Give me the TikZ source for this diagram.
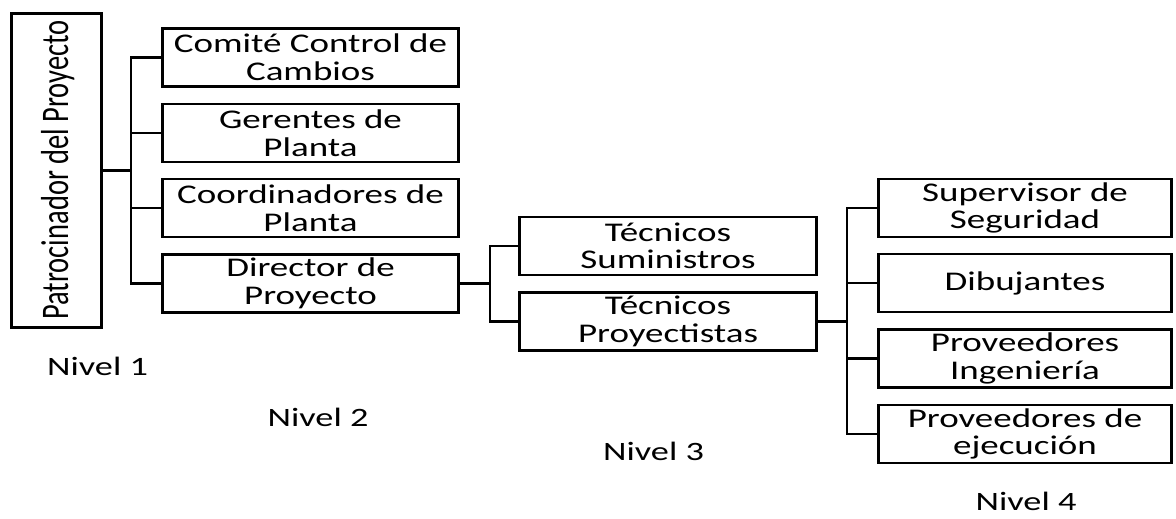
\documentclass[tikz,border=0pt]{standalone}
\usepackage{fontspec}
\setmainfont{Carlito}
\newfontfamily\widefont[FakeStretch=1.37]{Carlito}
\newfontfamily\plainfont{Carlito}
\begin{document}
\begin{tikzpicture}[x=1pt,y=-1pt,
  box/.style={draw, line width=2.6pt, minimum width=296pt, minimum height=58pt, inner sep=0pt, align=center, font=\widefont\fontsize{27}{27.6}\selectfont},
  conn/.style={line width=2.6pt},
  lvl/.style={font=\widefont\fontsize{26.5}{28}\selectfont, anchor=base, inner sep=0pt}]
\useasboundingbox (0,0) rectangle (1176,519);
% level 1
\node[draw, line width=2.6pt, minimum width=90.5pt, minimum height=314.5pt, inner sep=0pt] (sp) at (56.5,170.5) {};
\node[rotate=90, anchor=base, inner sep=0pt] (sptext) at (68,170) {\scalebox{1}[1.37]{\plainfont\fontsize{28.5}{30}\selectfont Patrocinador del Proyecto}};
% level 2
\node[box] (c1) at (310.5,57.5) {Comité Control de\\Cambios};
\node[box] (c2) at (310.5,133) {Gerentes de\\Planta};
\node[box] (c3) at (310.5,208) {Coordinadores de\\Planta};
\node[box] (c4) at (310.5,283.5) {Director de\\Proyecto};
% level 3
\node[box, minimum width=297.5pt] (t1) at (668,246) {Técnicos\\Suministros};
\node[box, minimum width=297.5pt] (t2) at (668,321.5) {Técnicos\\Proyectistas};
% level 4
\node[box, minimum width=293.5pt] (d1) at (1025,208) {Supervisor de\\Seguridad};
\node[box, minimum width=293.5pt] (d2) at (1025,283) {Dibujantes};
\node[box, minimum width=293.5pt] (d3) at (1025,358.5) {Proveedores\\Ingeniería};
\node[box, minimum width=293.5pt] (d4) at (1025,434) {Proveedores de\\ejecución};
% bus coordinates
\coordinate (bus1) at (131,0);
\coordinate (bus2) at (490,0);
\coordinate (bus3) at (847,0);
% connectors level 1 -> 2
\draw[conn] (sp.east) -- (sp.east -| bus1);
\draw[conn] (c1.west) -- (c1.west -| bus1) -- (c4.west -| bus1) -- (c4.west);
\draw[conn] (c2.west) -- (c2.west -| bus1);
\draw[conn] (c3.west) -- (c3.west -| bus1);
% connectors level 2 -> 3
\draw[conn] (c4.east) -- (c4.east -| bus2);
\draw[conn] (t1.west) -- (t1.west -| bus2) -- (t2.west -| bus2) -- (t2.west);
% connectors level 3 -> 4
\draw[conn] (t2.east) -- (t2.east -| bus3);
\draw[conn] (d1.west) -- (d1.west -| bus3) -- (d4.west -| bus3) -- (d4.west);
\draw[conn] (d2.west) -- (d2.west -| bus3);
\draw[conn] (d3.west) -- (d3.west -| bus3);
% level labels
\node[lvl] (n1) at (97.5,375) {Nivel 1};
\node[lvl] (n2) at (318,426.5) {Nivel 2};
\node[lvl] (n3) at (653.5,460) {Nivel 3};
\node[lvl] (n4) at (1026,510) {Nivel 4};
\end{tikzpicture}
\end{document}
